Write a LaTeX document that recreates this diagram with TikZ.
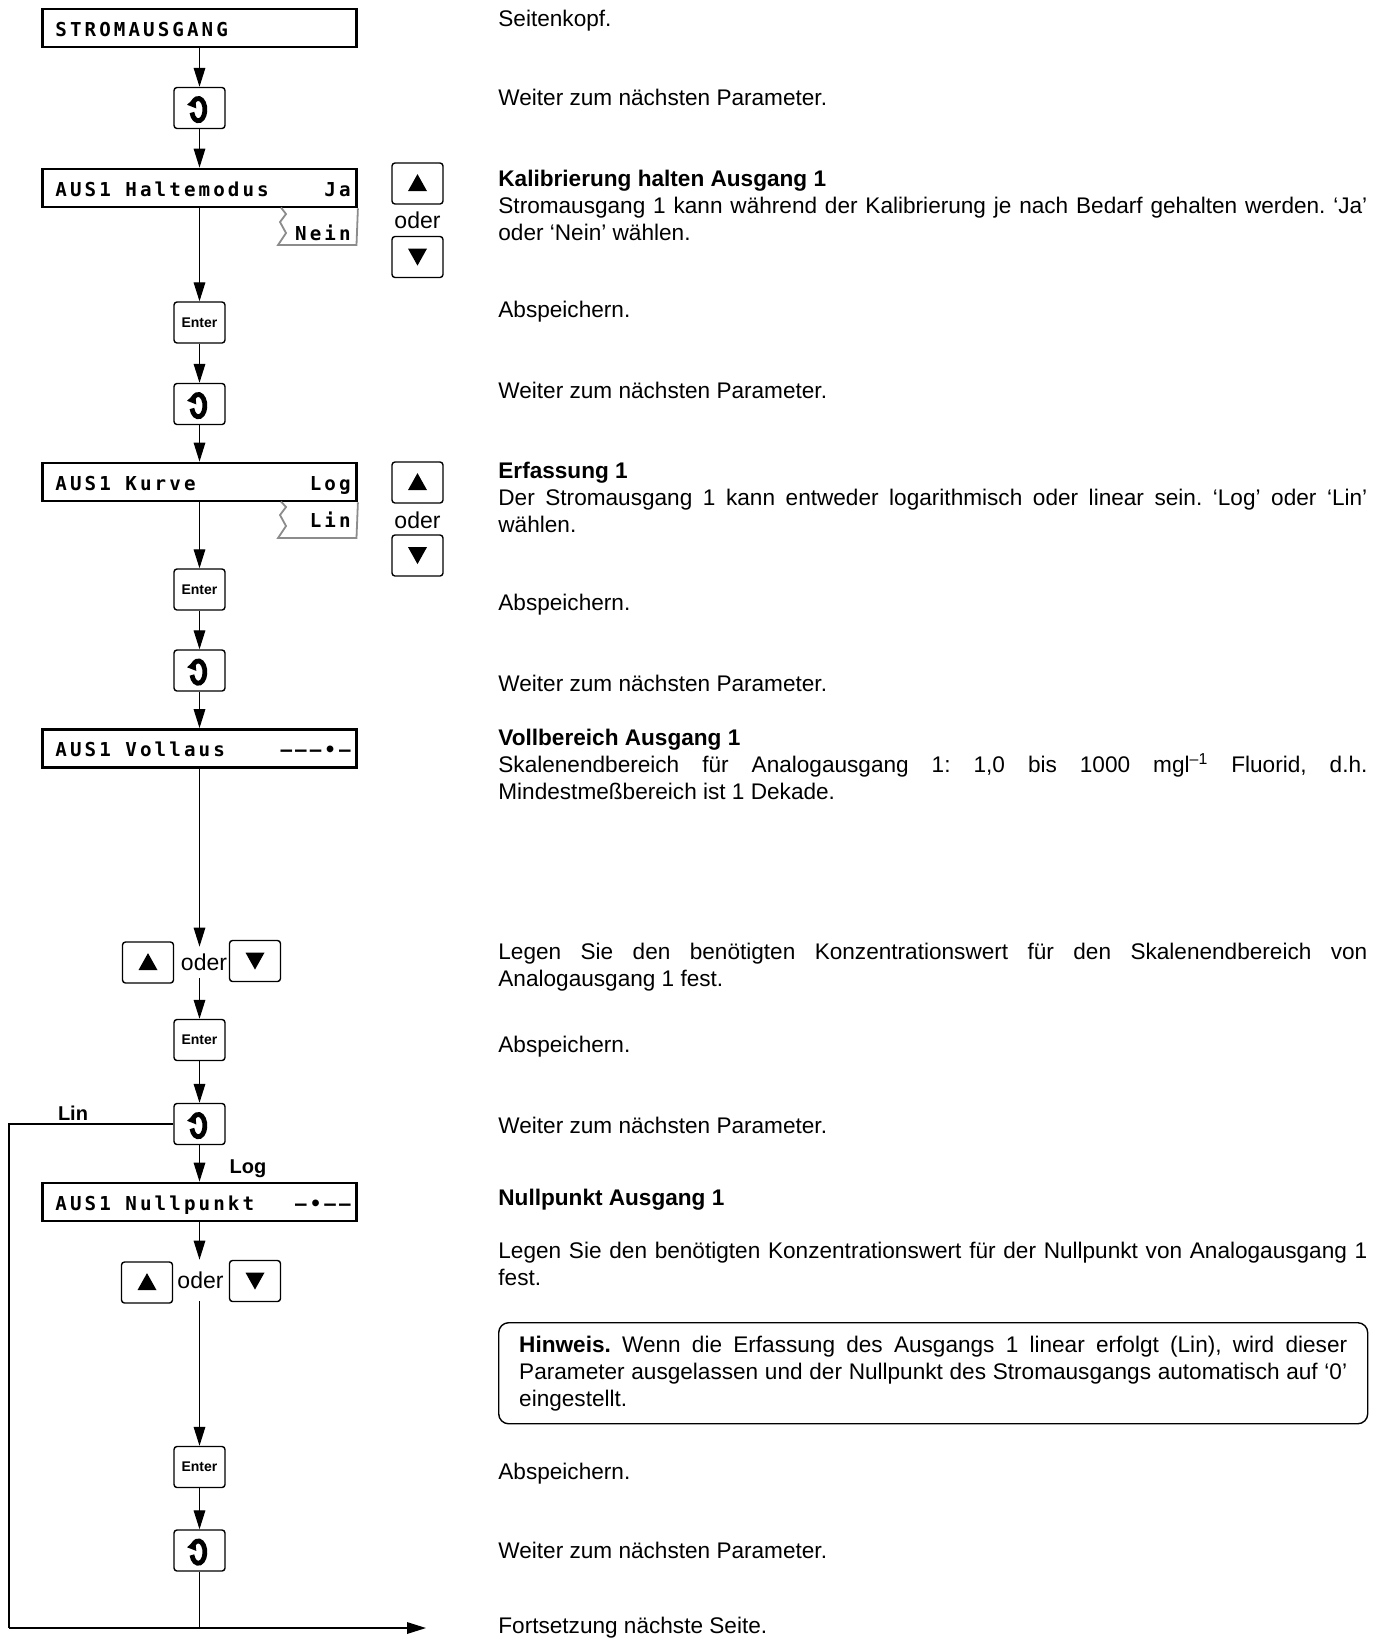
\documentclass[tikz,border=0pt]{standalone}
\usepackage{fontspec}
\setmainfont{Liberation Sans}
\newfontfamily\lcdfont{DejaVu Sans Mono Bold}[LetterSpace=16]
\usetikzlibrary{arrows.meta,calc}
\frenchspacing
\hyphenpenalty=10000
\exhyphenpenalty=10000
\tikzset{
  conn/.style={line width=0.65pt, -{Triangle[length=9.5pt,width=5.8pt]}},
  plainline/.style={line width=0.65pt},
  lcdbox/.style={draw, line width=1.4pt, minimum width=157pt, minimum height=19pt, inner sep=0pt},
  keybox/.style={draw, line width=0.7pt, rounded corners=1.5pt, minimum width=25.5pt, minimum height=20.5pt, inner sep=0pt},
  lcdtxt/.style={inner sep=0pt, font=\lcdfont\fontsize{9.6pt}{11pt}\selectfont},
  body/.style={inner sep=0pt, anchor=base west, text width=434.5pt, align=justify, font=\fontsize{11.3pt}{13.5pt}\selectfont},
  single/.style={inner sep=0pt, anchor=base west, font=\fontsize{11.3pt}{13.5pt}\selectfont},
  entertxt/.style={font=\bfseries\fontsize{7pt}{8pt}\selectfont},
  odertxt/.style={inner sep=0pt, font=\fontsize{11.5pt}{13pt}\selectfont},
  branch/.style={font=\bfseries\fontsize{10pt}{12pt}\selectfont, inner sep=0pt},
  tab/.style={draw=black!45, line width=0.9pt},
  hinweis/.style={draw, line width=0.7pt, rounded corners=5pt, text width=414pt, align=justify, inner xsep=10.25pt, inner ysep=6.5pt, font=\fontsize{11.3pt}{13.5pt}\selectfont},
}
\newcommand\recsym[1]{%
  \begin{scope}[shift={(#1.center)}]
    \draw[line width=2.4pt] (-0.6pt,-0.8pt) ++(-165:3.3pt and 5.6pt) arc[start angle=-165,end angle=140,x radius=3.3pt,y radius=5.6pt];
    \fill (-6.2pt,1.6pt) -- (-2.2pt,5.4pt) -- (-1.6pt,-0.2pt) -- cycle;
  \end{scope}}
\newcommand\uptri[1]{\fill ($(#1.center)+(-4.75pt,-3.8pt)$) -- ++(9.5pt,0pt) -- ++(-4.75pt,8.5pt) -- cycle;}
\newcommand\dntri[1]{\fill ($(#1.center)+(-4.75pt,4.2pt)$) -- ++(9.5pt,0pt) -- ++(-4.75pt,-8.5pt) -- cycle;}
\begin{document}
\begin{tikzpicture}[x=0.5pt,y=-0.5pt]
\fill[white] (0,0) rectangle (1384,1639);
\useasboundingbox (0,0) rectangle (1384,1639);

% ---------- left flow ----------
\node[lcdbox] (head) at (199.5,28) {};
\node[lcdtxt, anchor=base west] (headtxt) at (55,36) {STROMAUSGANG};

\node[keybox] (rec1) at (199.5,108) {};
\recsym{rec1}

\node[lcdbox] (halt) at (199.5,188) {};
\node[lcdtxt, anchor=base west] (halttxt) at (55,196) {AUS1 Haltemodus};
\node[lcdtxt, anchor=base east] (haltval) at (351,196) {Ja};
\draw[tab] (halt.south east) -- (356.5,245) -- (278,245) -- (286,233) -- (280,222) -- (286,214) -- (281,207.5);
\node[lcdtxt, anchor=base east] (haltalt) at (351,240) {Nein};

\node[keybox] (up1) at (417.5,183.5) {};
\uptri{up1}
\node[odertxt] (oder1) at (417.5,220) {oder};
\node[keybox] (dn1) at (417.5,257) {};
\dntri{dn1}

\node[keybox, entertxt] (enter1) at (199.5,322.5) {Enter};
\node[keybox] (rec2) at (199.5,404) {};
\recsym{rec2}

\node[lcdbox] (kurve) at (199.5,482) {};
\node[lcdtxt, anchor=base west] (kurvetxt) at (55,490) {AUS1 Kurve};
\node[lcdtxt, anchor=base east] (kurveval) at (351,490) {Log};
\draw[tab] (kurve.south east) -- (356.5,538) -- (278,538) -- (286,526) -- (280,515) -- (286,507) -- (281,501.5);
\node[lcdtxt, anchor=base east] (kurvealt) at (351,527) {Lin};

\node[keybox] (up2) at (417.5,482.5) {};
\uptri{up2}
\node[odertxt] (oder2) at (417.5,520) {oder};
\node[keybox] (dn2) at (417.5,555.5) {};
\dntri{dn2}

\node[keybox, entertxt] (enter2) at (199.5,589.5) {Enter};
\node[keybox] (rec3) at (199.5,670.5) {};
\recsym{rec3}

\node[lcdbox] (voll) at (199.5,748.5) {};
\node[lcdtxt, anchor=base west] (volltxt) at (55,756) {AUS1 Vollaus};
\node[lcdtxt, anchor=base east] (vollval) at (351,756) {–––•–};

\node[keybox] (up3) at (148,962.5) {};
\uptri{up3}
\node[odertxt, minimum height=15.5pt] (oder3) at (204,962.5) {oder};
\node[keybox] (dn3) at (255,961) {};
\dntri{dn3}

\node[keybox, entertxt] (enter3) at (199.5,1040) {Enter};
\node[keybox] (rec4) at (199.5,1124) {};
\recsym{rec4}

\node[lcdbox] (null) at (199.5,1202) {};
\node[lcdtxt, anchor=base west] (nulltxt) at (55,1210) {AUS1 Nullpunkt};
\node[lcdtxt, anchor=base east] (nullval) at (351,1210) {–•––};

\node[keybox] (up4) at (147,1282.5) {};
\uptri{up4}
\node[odertxt, minimum height=20.5pt] (oder4) at (200.5,1280.5) {oder};
\node[keybox] (dn4) at (255,1281) {};
\dntri{dn4}

\node[keybox, entertxt] (enter4) at (199.5,1467) {Enter};
\node[keybox] (rec5) at (199.5,1550.5) {};
\recsym{rec5}

\node[branch] (linlbl) at (73,1113) {Lin};
\node[branch] (loglbl) at (248,1169) {Log};

\coordinate (cornerTL) at (9,1124);
\coordinate (cornerBL) at (9,1628);
\coordinate (junction) at (199.5,1628);
\coordinate (exitpt) at (426,1628);

% connectors
\draw[conn] (head) -- (rec1);
\draw[conn] (rec1) -- (halt);
\draw[conn] (halt) -- (enter1);
\draw[conn] (enter1) -- (rec2);
\draw[conn] (rec2) -- (kurve);
\draw[conn] (kurve) -- (enter2);
\draw[conn] (enter2) -- (rec3);
\draw[conn] (rec3) -- (voll);
\draw[conn] (voll.south) -- (voll.south |- oder3.north);
\draw[conn] (enter3.north |- oder3.south) -- (enter3);
\draw[conn] (enter3) -- (rec4);
\draw[conn] (rec4) -- (null);
\draw[conn] (null.south) -- (null.south |- oder4.north);
\draw[conn] (enter4.north |- oder4.south) -- (enter4);
\draw[conn] (enter4) -- (rec5);
\draw[plainline] (rec5) -- (junction);
\draw[plainline] (rec4.west) -- (cornerTL) -- (cornerBL);
\draw[conn] (cornerBL) -- (exitpt);

% ---------- right texts ----------
\node[single] (t01) at (498,26) {Seitenkopf.};
\node[single] (t02) at (498,105) {Weiter zum nächsten Parameter.};
\node[body] (t03) at (498,186) {\textbf{Kalibrierung halten Ausgang 1}\newline Stromausgang 1 kann während der Kalibrierung je nach Bedarf gehalten werden. ‘Ja’\linebreak oder ‘Nein’ wählen.};
\node[single] (t04) at (498,317) {Abspeichern.};
\node[single] (t05) at (498,398) {Weiter zum nächsten Parameter.};
\node[body] (t06) at (498,478) {\textbf{Erfassung 1}\newline Der Stromausgang 1 kann entweder logarithmisch oder linear sein. ‘Log’ oder ‘Lin’\linebreak wählen.};
\node[single] (t07) at (498,610) {Abspeichern.};
\node[single] (t08) at (498,691) {Weiter zum nächsten Parameter.};
\node[body] (t09) at (498,745) {\textbf{Vollbereich Ausgang 1}\newline Skalenendbereich für Analogausgang 1: 1,0 bis 1000 mgl\textsuperscript{–1} Fluorid, d.h.\linebreak Mindestmeßbereich ist 1 Dekade.};
\node[body] (t10) at (498,959) {Legen Sie den benötigten Konzentrationswert für den Skalenendbereich von\linebreak Analogausgang 1 fest.};
\node[single] (t11) at (498,1052) {Abspeichern.};
\node[single] (t12) at (498,1133) {Weiter zum nächsten Parameter.};
\node[single] (t13) at (498,1205) {\textbf{Nullpunkt Ausgang 1}};
\node[body] (t14) at (498,1258) {Legen Sie den benötigten Konzentrationswert für der Nullpunkt von Analogausgang 1\linebreak fest.};
\node[hinweis, anchor=north west] (t15) at (498,1322) {\textbf{Hinweis.} Wenn die Erfassung des Ausgangs 1 linear erfolgt (Lin), wird dieser\linebreak Parameter ausgelassen und der Nullpunkt des Stromausgangs automatisch auf ‘0’\linebreak eingestellt.};
\node[single] (t16) at (498,1479) {Abspeichern.};
\node[single] (t17) at (498,1558) {Weiter zum nächsten Parameter.};
\node[single] (t18) at (498,1633) {Fortsetzung nächste Seite.};
\end{tikzpicture}
\end{document}
